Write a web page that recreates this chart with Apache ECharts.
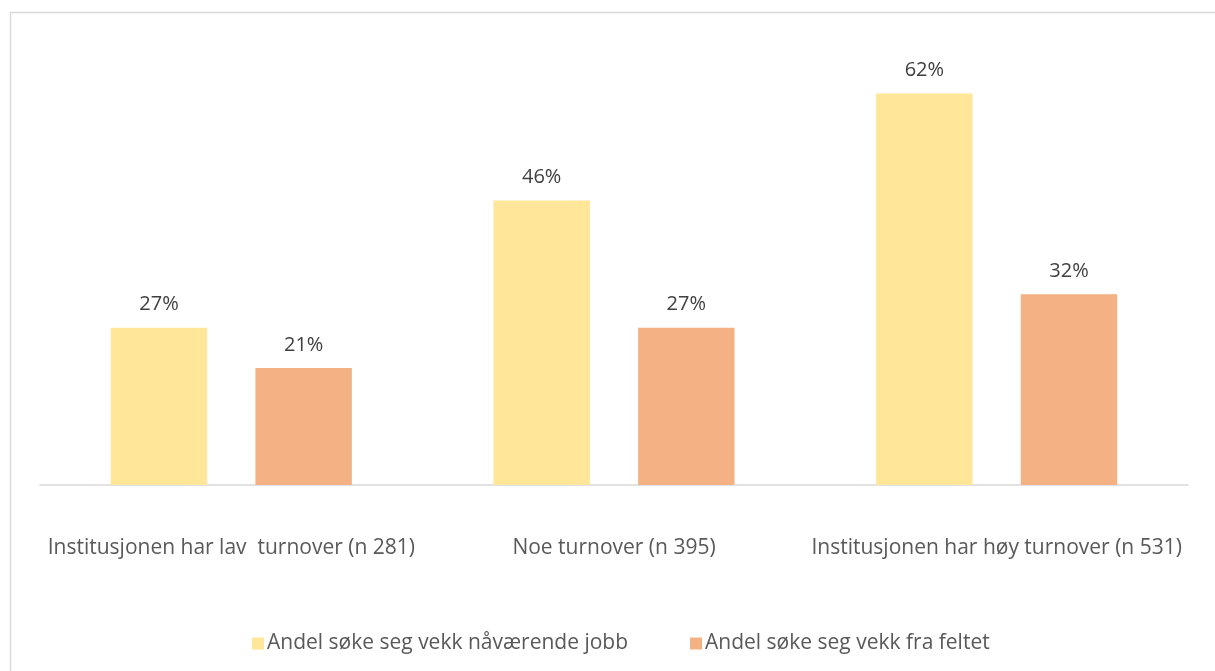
<!DOCTYPE html>
<html>
<head>
<meta charset="utf-8">
<script src="https://cdn.jsdelivr.net/npm/echarts@6/dist/echarts.min.js"></script>
<style>
  html, body { margin: 0; padding: 0; background: #fff; }
  #chart { width: 1215px; height: 671px; }
</style>
</head>
<body>
<div id="chart"></div>
<script>
// Turnover groups and the share who want to leave (percent)
const categories = [
  'Institusjonen har lav  turnover (n 281)',
  'Noe turnover (n 395)',
  'Institusjonen har høy turnover (n 531)'
];
const seriesNames = ['Andel søke seg vekk nåværende jobb', 'Andel søke seg vekk fra feltet'];
const leaveJob = [27, 46, 62];
const leaveField = [21, 27, 32];

const FONT = '"Open Sans", Lato, sans-serif';
const TEXT = '#595959';

const chart = echarts.init(document.getElementById('chart'), null, { renderer: 'canvas' });

const labelStyle = {
  show: true,
  position: 'top',
  distance: 13,
  formatter: p => p.value + '%',
  color: '#404040',
  fontFamily: FONT,
  fontSize: 20
};

chart.setOption({
  animation: false,
  backgroundColor: '#fff',
  graphic: [{
    type: 'rect',
    shape: { x: 10.5, y: 12.5, width: 1300, height: 800 },
    style: { fill: 'none', stroke: '#d9d9d9', lineWidth: 1.5 },
    silent: true,
    z: -1
  }],
  grid: { left: 40, right: 27, top: 40, bottom: 186, containLabel: false },
  legend: {
    data: seriesNames,
    left: 247,
    top: 628,
    itemWidth: 12,
    itemHeight: 12,
    itemGap: 62,
    icon: 'rect',
    textStyle: { color: TEXT, fontFamily: FONT, fontSize: 21, padding: [0, 0, 0, -2] }
  },
  xAxis: {
    type: 'category',
    data: categories,
    axisLine: { lineStyle: { color: '#d9d9d9', width: 1.5 } },
    axisTick: { show: false },
    axisLabel: { color: TEXT, fontFamily: FONT, fontSize: 21, margin: 53, interval: 0 }
  },
  yAxis: {
    type: 'value',
    min: 3.5,
    max: 70,
    show: false,
    splitLine: { show: false }
  },
  series: [
    {
      name: seriesNames[0],
      type: 'bar',
      data: leaveJob,
      itemStyle: { color: '#FFE699' },
      barGap: '50%',
      barCategoryGap: '37%',
      label: labelStyle
    },
    {
      name: seriesNames[1],
      type: 'bar',
      data: leaveField,
      itemStyle: { color: '#F4B183' },
      barGap: '50%',
      barCategoryGap: '37%',
      label: labelStyle
    }
  ]
});
</script>
</body>
</html>
